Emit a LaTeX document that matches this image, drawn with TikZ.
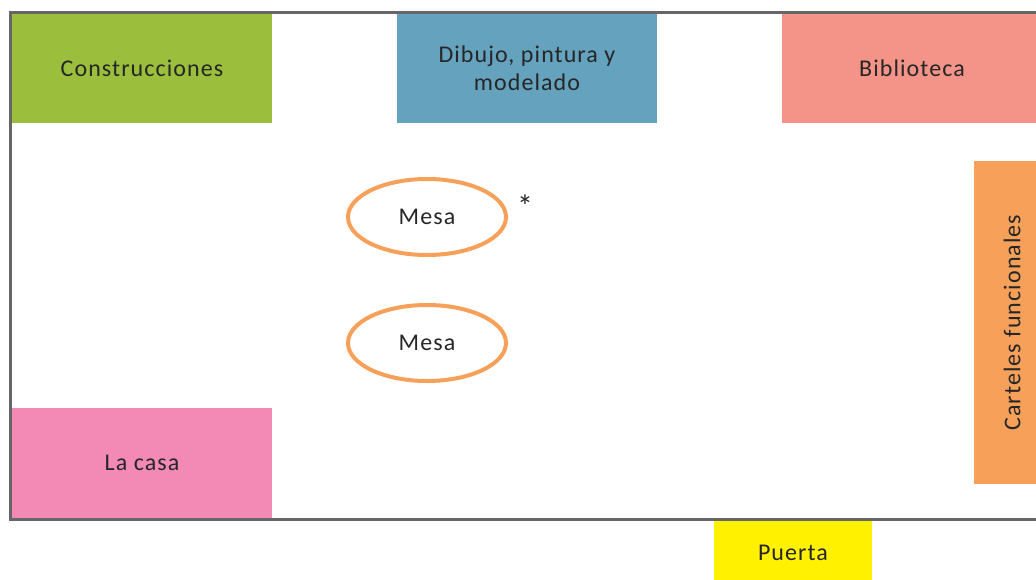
\documentclass[tikz,border=0pt]{standalone}
\usepackage{fontspec}
\setmainfont{Carlito}[LetterSpace=4.5]
\usetikzlibrary{shapes,positioning}
\definecolor{wallgray}{HTML}{666666}
\definecolor{zonegreen}{HTML}{9BBE3C}
\definecolor{zoneblue}{HTML}{65A2BE}
\definecolor{zonesalmon}{HTML}{F49488}
\definecolor{zoneorange}{HTML}{F7A05A}
\definecolor{zonepink}{HTML}{F38AB6}
\definecolor{zoneyellow}{HTML}{FFF100}
\definecolor{labelgray}{HTML}{262626}
\tikzset{
    zone/.style={minimum width=260pt, minimum height=110pt, inner sep=0pt, text=labelgray, font=\fontsize{24}{28}\selectfont, align=center},
    zoneC/.style={zone, fill=zonegreen},
    zoneD/.style={zone, fill=zoneblue},
    zoneB/.style={zone, fill=zonesalmon},
    zoneK/.style={zone, fill=zoneorange, minimum width=323pt, minimum height=76pt, rotate=90},
    zoneL/.style={zone, fill=zonepink},
    zoneP/.style={zone, fill=zoneyellow, minimum width=158pt, minimum height=64pt},
    mesa/.style={draw=zoneorange, line width=4pt, ellipse, minimum width=158pt, minimum height=76pt, inner sep=0pt, text=labelgray, font=\fontsize{24}{28}\selectfont},
    wall/.style={draw=wallgray, line width=3pt},
}

\begin{document}
\begin{tikzpicture}[x=1pt, y=-1pt]
    \useasboundingbox (0,0) rectangle (1036,579);

    % Rincones
    \node[zoneC] (constr) at (142,68) {Construcciones};
    \node[zoneD] (dibujo) at (527,68) {Dibujo, pintura y\\modelado};
    \node[zoneB] (biblio) at (912,68) {Biblioteca};
    \node[zoneK] (carteles) at (1012,322.5) {Carteles funcionales};
    \node[zoneL] (casa) at (142,463) {La casa};

    % Paredes del aula
    \draw[wall] (10,12) rectangle (1080,519);

    % Puerta
    \node[zoneP] (puerta) at (793,553) {Puerta};

    % Mesas
    \node[mesa] (mesa1) at (427,217) {Mesa};
    \node[mesa] (mesa2) at (427,343) {Mesa};
    \node[text=labelgray, font=\fontsize{32}{34}\selectfont] (ast) at (525,206) {*};
\end{tikzpicture}
\end{document}
